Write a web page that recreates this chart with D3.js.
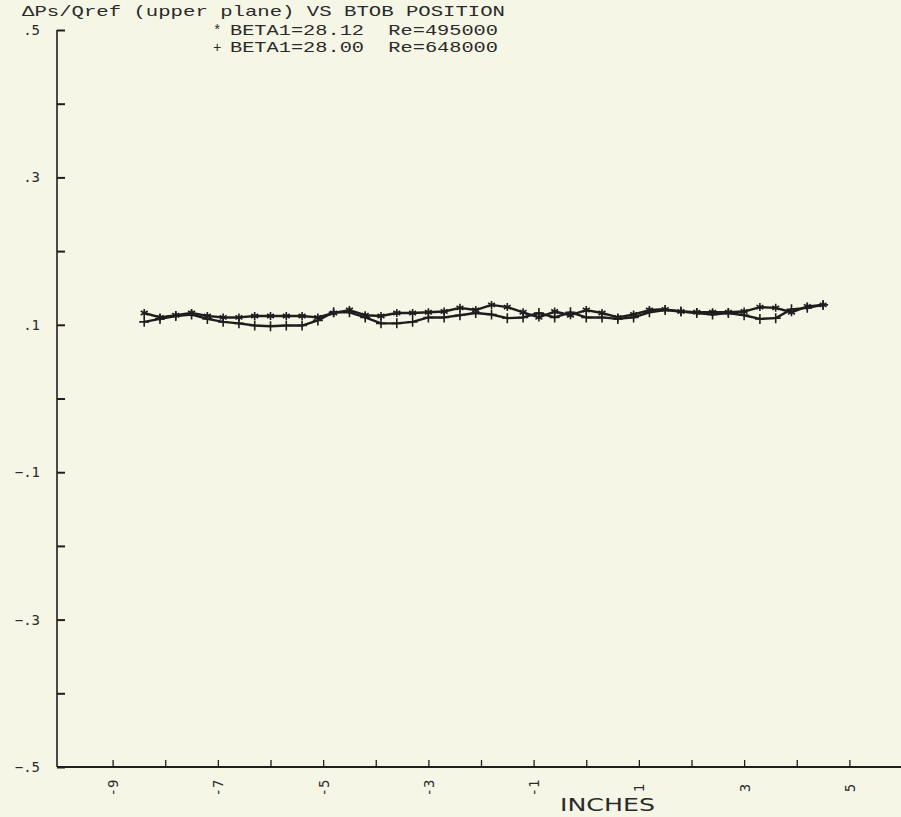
<!DOCTYPE html>
<html><head><meta charset="utf-8">
<script src="https://cdn.jsdelivr.net/npm/d3@7/dist/d3.min.js"></script>
<style>
html,body{margin:0;padding:0;background:#f6f6e6;}
svg{display:block;}
text{fill:#2a2a2a;}
</style></head>
<body>
<script>
// ---- data ----
const xPositions = [-8.4,-8.1,-7.8,-7.5,-7.2,-6.9,-6.6,-6.3,-6.0,-5.7,-5.4,-5.1,-4.8,-4.5,-4.2,-3.9,-3.6,-3.3,-3.0,-2.7,-2.4,-2.1,-1.8,-1.5,-1.2,-0.9,-0.6,-0.3,0.0,0.3,0.6,0.9,1.2,1.5,1.8,2.1,2.4,2.7,3.0,3.3,3.6,3.9,4.2,4.5];
const seriesStar = [.116,.110,.113,.116,.112,.110,.110,.112,.112,.112,.112,.110,.116,.120,.113,.112,.116,.116,.117,.118,.123,.120,.127,.124,.117,.110,.118,.113,.120,.116,.110,.114,.120,.121,.118,.117,.117,.117,.118,.124,.123,.117,.125,.127];
const seriesPlus = [.104,.108,.112,.114,.108,.104,.102,.099,.098,.099,.099,.106,.117,.117,.110,.102,.102,.104,.110,.110,.113,.116,.114,.109,.110,.116,.110,.117,.110,.110,.108,.110,.117,.120,.118,.116,.114,.116,.113,.108,.109,.121,.123,.127];
const legendLabels = ["BETA1=28.12  Re=495000","BETA1=28.00  Re=648000"];
const legendSymbols = ["*","+"];
const yTickValues = [.5,.4,.3,.2,.1,0,-.1,-.2,-.3,-.4,-.5];
const yLabeled = [.5,.3,.1,-.1,-.3,-.5];
const xTickValues = [-9,-8,-7,-6,-5,-4,-3,-2,-1,0,1,2,3,4,5];
const xLabeled = [-9,-7,-5,-3,-1,1,3,5];
const titleText = "\u0394Ps/Qref (upper plane) VS BTOB POSITION";
const xTitle = "INCHES";

// ---- layout ----
const W = 901, H = 817;
const svg = d3.select("body").append("svg").attr("width", W).attr("height", H);
const mono = "'DejaVu Sans Mono','Liberation Mono',monospace";
const courier = "'Liberation Mono','DejaVu Sans Mono',monospace";
const axisX0 = 57, axisY0 = 767;

const x = d3.scaleLinear().domain([-10, 6]).range([60, 902]);
const y = d3.scaleLinear().domain([-.5, .5]).range([767, 30]);

const ink = "#1e1e1e";

// axis lines
svg.append("line").attr("x1", axisX0).attr("x2", axisX0).attr("y1", y(.5)).attr("y2", axisY0)
  .attr("stroke", ink).attr("stroke-width", 1.6);
svg.append("line").attr("x1", axisX0).attr("x2", W).attr("y1", axisY0).attr("y2", axisY0)
  .attr("stroke", ink).attr("stroke-width", 1.8);

// y axis
const fmt = v => { const s = d3.format(".1f")(v); return s.replace("0.", "."); };
const yAxis = d3.axisLeft(y).tickValues(yTickValues).tickSizeInner(-8).tickSizeOuter(0).tickPadding(17)
  .tickFormat(v => yLabeled.some(l => Math.abs(l - v) < 1e-9) ? fmt(v) : "");
const gy = svg.append("g").attr("transform", `translate(${axisX0},0)`).call(yAxis);
gy.select(".domain").remove();
gy.selectAll(".tick line").attr("stroke", ink).attr("stroke-width", 2);
gy.selectAll(".tick text").attr("font-family", mono).attr("font-size", 14).attr("fill", "#2a2a2a");

// x axis
const xAxis = d3.axisBottom(x).tickValues(xTickValues).tickSizeInner(-7).tickSizeOuter(0).tickPadding(0)
  .tickFormat(v => xLabeled.includes(v) ? String(v) : "");
const gx = svg.append("g").attr("transform", `translate(0,${axisY0})`).call(xAxis);
gx.select(".domain").remove();
gx.selectAll(".tick line").attr("stroke", ink).attr("stroke-width", 1.3);
gx.selectAll(".tick text").attr("font-family", mono).attr("font-size", 14).attr("fill", "#2a2a2a")
  .attr("text-anchor", "middle").attr("dy", null).attr("y", null)
  .attr("transform", "translate(0,21) rotate(-90)").attr("dominant-baseline", "central");

// title
svg.append("text").attr("x", 22).attr("y", 16).attr("font-family", courier).attr("font-size", 15)
  .attr("textLength", 483).attr("lengthAdjust", "spacingAndGlyphs").text(titleText);

// axis title
svg.append("text").attr("x", 560).attr("y", 811).attr("font-family", "'DejaVu Sans',sans-serif")
  .attr("font-size", 18).attr("textLength", 95).attr("lengthAdjust", "spacingAndGlyphs").text(xTitle);

// legend
legendLabels.forEach((lab, i) => {
  const ly = 35 + i * 17;
  svg.append("text").attr("x", 213).attr("y", ly).attr("font-family", courier).attr("font-size", 14).text(legendSymbols[i]);
  svg.append("text").attr("x", 230).attr("y", ly).attr("font-family", courier).attr("font-size", 14)
    .attr("textLength", 268).attr("lengthAdjust", "spacingAndGlyphs").attr("xml:space", "preserve").text(lab);
});

// data lines
const series = [seriesStar, seriesPlus];
const line = d3.line().x((d, i) => x(xPositions[i])).y(d => y(d));
series.forEach(s => {
  svg.append("path").datum(s).attr("d", line).attr("fill", "none").attr("stroke", ink)
    .attr("stroke-width", 2.4).attr("stroke-linejoin", "round");
});

// markers
const starPath = r => {
  const a = r * 0.866, b = r * 0.5;
  return `M0,${-r}V${r}M${-a},${-b}L${a},${b}M${-a},${b}L${a},${-b}`;
};
const plusPath = r => `M${-r},0H${r}M0,${-r}V${r}`;
svg.append("g").selectAll("path").data(seriesStar).join("path")
  .attr("transform", (d, i) => `translate(${x(xPositions[i])},${y(d)})`)
  .attr("d", starPath(4)).attr("stroke", ink).attr("stroke-width", 1.6).attr("fill", "none");
svg.append("g").selectAll("path").data(seriesPlus).join("path")
  .attr("transform", (d, i) => `translate(${x(xPositions[i])},${y(d)})`)
  .attr("d", plusPath(5)).attr("stroke", ink).attr("stroke-width", 1.6).attr("fill", "none");
</script>
</body></html>
